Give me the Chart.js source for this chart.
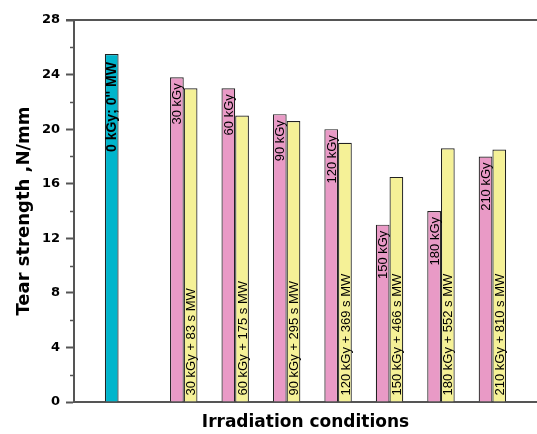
<!DOCTYPE html>
<html>
<head>
<meta charset="utf-8">
<script src="https://cdn.jsdelivr.net/npm/chart.js@4.4.0/dist/chart.umd.min.js"></script>
<style>
  html, body { margin: 0; padding: 0; background: #fff; }
  canvas { display: block; }
</style>
</head>
<body>
<canvas id="c" width="537" height="434"></canvas>
<script>
// Tear strength (N/mm) for each irradiation condition
const controlLabel = ["0 kGy; 0'' MW"];
const controlValue = [25.5];
const doseLabels = ['30 kGy', '60 kGy', '90 kGy', '120 kGy', '150 kGy', '180 kGy', '210 kGy'];
const doseValues = [23.8, 23.0, 21.1, 20.0, 13.0, 14.0, 18.0];
const combinedLabels = ['30 kGy + 83 s MW', '60 kGy + 175 s MW', '90 kGy + 295 s MW', '120 kGy + 369 s MW',
                        '150 kGy + 466 s MW', '180 kGy + 552 s MW', '210 kGy + 810 s MW'];
const combinedValues = [23.0, 21.0, 20.6, 19.0, 16.5, 18.6, 18.5];
const yTickValues = [0, 4, 8, 12, 16, 20, 24, 28];
const yMinorValues = [2, 6, 10, 14, 18, 22, 26];
const xTitle = 'Irradiation conditions';
const yTitle = 'Tear strength ,N/mm';

// One category per condition, with an empty slot on each side of the axis
const conditions = controlLabel.concat(doseLabels);
const labels = [''].concat(conditions, ['']);
const controlData = labels.map((_, i) => (i === 1 ? controlValue[0] : null));
const doseData = labels.map((_, i) => (i >= 2 && i < 2 + doseValues.length ? doseValues[i - 2] : null));
const combinedData = labels.map((_, i) => (i >= 2 && i < 2 + combinedValues.length ? combinedValues[i - 2] : null));
const barText = [
  labels.map((_, i) => (i === 1 ? controlLabel[0] : null)),
  labels.map((_, i) => (i >= 2 && i < 2 + doseLabels.length ? doseLabels[i - 2] : null)),
  labels.map((_, i) => (i >= 2 && i < 2 + combinedLabels.length ? combinedLabels[i - 2] : null))
];

const AXIS = '#555';

const decorPlugin = {
  id: 'decor',
  afterDraw(chart) {
    const ctx = chart.ctx;
    const a = chart.chartArea;
    const y = chart.scales.y;
    ctx.save();
    ctx.strokeStyle = AXIS;
    // top frame line
    ctx.lineWidth = 2;
    ctx.beginPath();
    ctx.moveTo(a.left - 8, a.top);
    ctx.lineTo(a.right, a.top);
    ctx.stroke();
    // minor ticks
    ctx.lineWidth = 1.5;
    yMinorValues.forEach(v => {
      const py = Math.round(y.getPixelForValue(v)) + 0.5;
      ctx.beginPath();
      ctx.moveTo(a.left - 4, py);
      ctx.lineTo(a.left, py);
      ctx.stroke();
    });
    // axis titles
    ctx.fillStyle = '#000';
    ctx.textAlign = 'center';
    ctx.textBaseline = 'middle';
    ctx.font = 'bold 17px "DejaVu Sans"';
    ctx.fillText(xTitle, (a.left + a.right) / 2 + 0, 423);
    ctx.save();
    ctx.font = 'bold 18px "DejaVu Sans"';
    ctx.translate(24, (a.top + a.bottom) / 2);
    ctx.rotate(-Math.PI / 2);
    ctx.fillText(yTitle, 0, 0);
    ctx.restore();
    ctx.restore();
  },
  afterDatasetsDraw(chart) {
    const ctx = chart.ctx;
    ctx.save();
    ctx.fillStyle = '#000';
    ctx.textBaseline = 'middle';
    chart.data.datasets.forEach((ds, di) => {
      const meta = chart.getDatasetMeta(di);
      meta.data.forEach((el, i) => {
        const txt = barText[di][i];
        if (!txt) return;
        const p = el.getProps(['x', 'y', 'base'], true);
        ctx.save();
        if (di === 0) {
          ctx.font = 'bold 14px "Liberation Sans"';
          ctx.translate(p.x + 0.5, p.y + 8);
          ctx.textAlign = 'right';
        } else if (di === 1) {
          ctx.font = '13px "Liberation Sans"';
          ctx.translate(p.x + 1, p.y + 6);
          ctx.textAlign = 'right';
        } else {
          ctx.font = '13px "Liberation Sans"';
          ctx.translate(p.x + 1, p.base - 6);
          ctx.textAlign = 'left';
        }
        ctx.rotate(-Math.PI / 2);
        ctx.fillText(txt, 0, 0);
        ctx.restore();
      });
    });
    ctx.restore();
  }
};

new Chart(document.getElementById('c'), {
  type: 'bar',
  data: {
    labels: labels,
    datasets: [
      { data: controlData, backgroundColor: '#00b5cc', borderColor: '#222', borderWidth: 1.2 },
      { data: doseData, backgroundColor: '#e99ac6', borderColor: '#222', borderWidth: 1.2 },
      { data: combinedData, backgroundColor: '#f5f197', borderColor: '#222', borderWidth: 1.2 }
    ]
  },
  options: {
    responsive: false,
    devicePixelRatio: 1,
    animation: false,
    layout: { padding: { top: 20, left: 0, right: 0, bottom: 0 } },
    datasets: { bar: { categoryPercentage: 0.8, barPercentage: 1.0, borderSkipped: 'start' } },
    plugins: { legend: { display: false }, tooltip: { enabled: false } },
    scales: {
      x: {
        type: 'category',
        offset: false,
        grid: { display: false, drawTicks: false },
        border: { display: true, color: AXIS, width: 2 },
        ticks: { display: false },
        afterFit(s) { s.height = 32; }
      },
      y: {
        min: 0,
        max: 28,
        afterBuildTicks(s) { s.ticks = yTickValues.map(v => ({ value: v })); },
        ticks: { color: '#000', padding: 6, font: { family: 'DejaVu Sans', weight: 'bold', size: 13 } },
        grid: { drawOnChartArea: false, drawTicks: true, tickLength: 8, tickColor: AXIS, tickWidth: 2, color: AXIS },
        border: { display: true, color: AXIS, width: 2 },
        afterFit(s) { s.width = 74; }
      }
    }
  },
  plugins: [decorPlugin]
});
</script>
</body>
</html>
